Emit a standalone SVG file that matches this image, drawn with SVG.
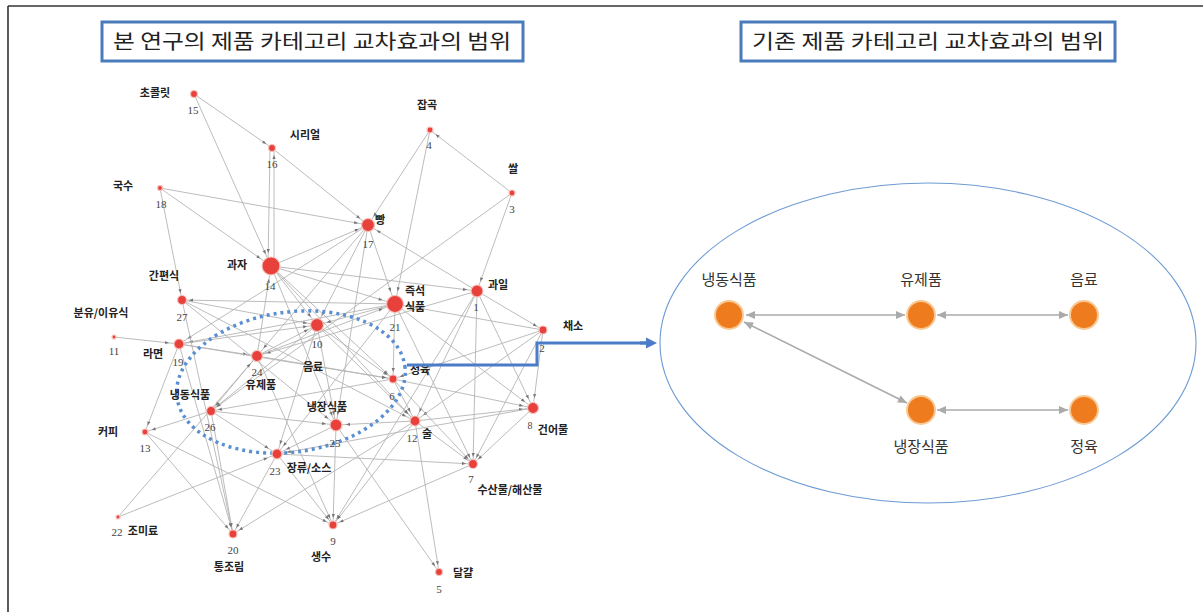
<svg xmlns="http://www.w3.org/2000/svg" width="1203" height="612" viewBox="0 0 1203 612">
<style>
.e line{stroke:#b4b4b4;stroke-width:0.9;fill:none}
.s{marker-end:url(#as)} .m{marker-end:url(#am)} .l{marker-end:url(#al)}
.nd circle{fill:#e8413c;stroke:#f7c2bc;stroke-width:1.2}
.lb{font-family:"Noto Sans CJK KR",sans-serif;font-size:11px;font-weight:bold;fill:#222;text-anchor:middle}
.nm{font-family:"Liberation Serif",serif;font-size:11px;fill:#444;text-anchor:middle}
.on circle{fill:#ee7b1e;stroke:#f9c994;stroke-width:2}
.rl{font-family:"Noto Sans CJK KR",sans-serif;font-size:15px;fill:#333;text-anchor:middle}
.ra line{stroke:#aaaaaa;stroke-width:1.6;marker-start:url(#ra);marker-end:url(#ra)}
.tb{fill:#fff;stroke:#4a7cbc;stroke-width:3}
.tt{font-family:"Noto Sans CJK KR",sans-serif;font-size:20px;fill:#222;text-anchor:middle}
</style>
<defs>
<marker id="as" markerUnits="userSpaceOnUse" markerWidth="6" markerHeight="6" refX="11" refY="0" orient="auto" overflow="visible"><path d="M0,-1.6 L4,0 L0,1.6z" fill="#777"/></marker>
<marker id="am" markerUnits="userSpaceOnUse" markerWidth="6" markerHeight="6" refX="14" refY="0" orient="auto" overflow="visible"><path d="M0,-1.6 L4,0 L0,1.6z" fill="#777"/></marker>
<marker id="al" markerUnits="userSpaceOnUse" markerWidth="6" markerHeight="6" refX="17" refY="0" orient="auto" overflow="visible"><path d="M0,-1.6 L4,0 L0,1.6z" fill="#777"/></marker>
<marker id="ra" markerUnits="userSpaceOnUse" markerWidth="12" markerHeight="12" refX="9" refY="0" orient="auto-start-reverse" overflow="visible"><path d="M0,-4 L9,0 L0,4z" fill="#aaaaaa"/></marker>
<marker id="ba" markerUnits="userSpaceOnUse" markerWidth="14" markerHeight="14" refX="0" refY="0" orient="auto" overflow="visible"><path d="M0,-5.5 L11,0 L0,5.5z" fill="#4a7cc8"/></marker>
</defs>
<rect width="1203" height="612" fill="#fff"/>
<!-- frame -->
<g id="frame" stroke="#333" stroke-width="1.6">
<line x1="8" y1="6" x2="1203" y2="6"/>
<line x1="8" y1="6" x2="8" y2="612"/>
</g>
<!-- titles -->
<g id="title-left"><rect class="tb" x="102" y="22" width="421" height="39"/><text class="tt" x="312" y="49" textLength="398" lengthAdjust="spacingAndGlyphs">본 연구의 제품 카테고리 교차효과의 범위</text></g>
<g id="title-right"><rect class="tb" x="741" y="22" width="374" height="39"/><text class="tt" x="928" y="49" textLength="352" lengthAdjust="spacingAndGlyphs">기존 제품 카테고리 교차효과의 범위</text></g>

<!-- network edges -->
<g id="edges" class="e">
<line class="s" x1="194" y1="94" x2="272" y2="148"/>
<line class="l" x1="194" y1="94" x2="271" y2="266"/>
<line class="l" x1="270" y1="148" x2="268" y2="266"/>
<line class="s" x1="274" y1="266" x2="274" y2="148"/>
<line class="m" x1="272" y1="148" x2="368" y2="225"/>
<line class="m" x1="160" y1="188" x2="368" y2="225"/>
<line class="l" x1="160" y1="188" x2="271" y2="266"/>
<line class="s" x1="160" y1="188" x2="182" y2="300"/>
<line class="m" x1="430" y1="130" x2="368" y2="225"/>
<line class="l" x1="430" y1="130" x2="395" y2="304"/>
<line class="s" x1="512" y1="193" x2="430" y2="130"/>
<line class="m" x1="512" y1="193" x2="477" y2="291"/>
<line class="s" x1="512" y1="193" x2="211" y2="411"/>
<line class="m" x1="477" y1="291" x2="368" y2="225"/>
<line class="m" x1="271" y1="266" x2="477" y2="291"/>
<line class="m" x1="271" y1="266" x2="368" y2="225"/>
<line class="m" x1="368" y1="225" x2="257" y2="356"/>
<line class="m" x1="368" y1="225" x2="179" y2="344"/>
<line class="m" x1="368" y1="225" x2="317" y2="325"/>
<line class="m" x1="368" y1="225" x2="336" y2="425"/>
<line class="l" x1="368" y1="225" x2="395" y2="304"/>
<line class="l" x1="271" y1="266" x2="395" y2="304"/>
<line class="l" x1="257" y1="356" x2="271" y2="266"/>
<line class="m" x1="271" y1="266" x2="317" y2="325"/>
<line class="m" x1="271" y1="266" x2="415" y2="421"/>
<line class="s" x1="271" y1="266" x2="393" y2="379"/>
<line class="m" x1="271" y1="266" x2="336" y2="425"/>
<line class="s" x1="477" y1="291" x2="543" y2="330"/>
<line class="s" x1="477" y1="291" x2="473" y2="464"/>
<line class="m" x1="477" y1="291" x2="415" y2="421"/>
<line class="m" x1="477" y1="291" x2="257" y2="356"/>
<line class="m" x1="477" y1="291" x2="533" y2="408"/>
<line class="s" x1="477" y1="291" x2="333" y2="525"/>
<line class="s" x1="395" y1="304" x2="182" y2="300"/>
<line class="m" x1="395" y1="304" x2="533" y2="408"/>
<line class="m" x1="395" y1="304" x2="317" y2="325"/>
<line class="m" x1="395" y1="304" x2="179" y2="344"/>
<line class="m" x1="395" y1="304" x2="277" y2="454"/>
<line class="s" x1="395" y1="304" x2="393" y2="379"/>
<line class="s" x1="395" y1="304" x2="473" y2="464"/>
<line class="s" x1="543" y1="330" x2="393" y2="379"/>
<line class="m" x1="543" y1="330" x2="533" y2="408"/>
<line class="s" x1="543" y1="330" x2="473" y2="464"/>
<line class="m" x1="543" y1="330" x2="415" y2="421"/>
<line class="l" x1="543" y1="330" x2="395" y2="304"/>
<line class="m" x1="182" y1="300" x2="317" y2="325"/>
<line class="m" x1="182" y1="300" x2="415" y2="421"/>
<line class="m" x1="182" y1="300" x2="336" y2="425"/>
<line class="s" x1="182" y1="300" x2="233" y2="534"/>
<line class="m" x1="114" y1="337" x2="179" y2="344"/>
<line class="m" x1="179" y1="344" x2="317" y2="325"/>
<line class="m" x1="179" y1="344" x2="257" y2="356"/>
<line class="s" x1="179" y1="344" x2="145" y2="432"/>
<line class="s" x1="179" y1="344" x2="233" y2="534"/>
<line class="s" x1="179" y1="344" x2="393" y2="379"/>
<line class="m" x1="257" y1="356" x2="317" y2="325"/>
<line class="s" x1="257" y1="356" x2="393" y2="379"/>
<line class="s" x1="257" y1="356" x2="333" y2="525"/>
<line class="s" x1="257" y1="356" x2="211" y2="411"/>
<line class="l" x1="257" y1="356" x2="395" y2="304"/>
<line class="s" x1="317" y1="325" x2="393" y2="379"/>
<line class="m" x1="317" y1="325" x2="277" y2="454"/>
<line class="m" x1="317" y1="325" x2="336" y2="425"/>
<line class="s" x1="317" y1="325" x2="211" y2="411"/>
<line class="m" x1="317" y1="325" x2="415" y2="421"/>
<line class="m" x1="393" y1="379" x2="415" y2="421"/>
<line class="s" x1="393" y1="379" x2="211" y2="411"/>
<line class="s" x1="393" y1="379" x2="473" y2="464"/>
<line class="m" x1="393" y1="379" x2="533" y2="408"/>
<line class="m" x1="211" y1="411" x2="336" y2="425"/>
<line class="s" x1="211" y1="411" x2="233" y2="534"/>
<line class="m" x1="211" y1="411" x2="277" y2="454"/>
<line class="s" x1="211" y1="411" x2="145" y2="432"/>
<line class="m" x1="415" y1="421" x2="336" y2="425"/>
<line class="s" x1="336" y1="425" x2="439" y2="572"/>
<line class="s" x1="336" y1="425" x2="333" y2="525"/>
<line class="m" x1="336" y1="425" x2="277" y2="454"/>
<line class="m" x1="415" y1="421" x2="533" y2="408"/>
<line class="s" x1="415" y1="421" x2="473" y2="464"/>
<line class="s" x1="415" y1="421" x2="439" y2="572"/>
<line class="s" x1="415" y1="421" x2="233" y2="534"/>
<line class="s" x1="415" y1="421" x2="333" y2="525"/>
<line class="s" x1="533" y1="408" x2="473" y2="464"/>
<line class="m" x1="533" y1="408" x2="277" y2="454"/>
<line class="s" x1="473" y1="464" x2="333" y2="525"/>
<line class="s" x1="145" y1="432" x2="233" y2="534"/>
<line class="s" x1="145" y1="432" x2="333" y2="525"/>
<line class="m" x1="118" y1="517" x2="277" y2="454"/>
<line class="m" x1="118" y1="517" x2="257" y2="356"/>
<line class="s" x1="277" y1="454" x2="473" y2="464"/>
<line class="s" x1="277" y1="454" x2="233" y2="534"/>
<line class="s" x1="277" y1="454" x2="333" y2="525"/>
</g>

<!-- dotted highlight -->
<ellipse id="highlight" cx="291" cy="382" rx="115" ry="70" transform="rotate(-8 291 382)" fill="none" stroke="#5a8fd2" stroke-width="3.5" stroke-dasharray="3 4"/>

<!-- network nodes -->
<g id="n15" class="nd"><circle cx="194" cy="94" r="3.5"/><text class="lb" x="155" y="97">초콜릿</text><text class="nm" x="193" y="114">15</text></g>
<g id="n16" class="nd"><circle cx="272" cy="148" r="3.5"/><text class="lb" x="305" y="139">시리얼</text><text class="nm" x="272" y="168">16</text></g>
<g id="n18" class="nd"><circle cx="160" cy="188" r="2.5"/><text class="lb" x="123" y="190">국수</text><text class="nm" x="161" y="208">18</text></g>
<g id="n17" class="nd"><circle cx="368" cy="225" r="6.5"/><text class="lb" x="380" y="224">빵</text><text class="nm" x="368" y="248">17</text></g>
<g id="n4" class="nd"><circle cx="430" cy="130" r="3"/><text class="lb" x="427" y="109">잡곡</text><text class="nm" x="429" y="149">4</text></g>
<g id="n3" class="nd"><circle cx="512" cy="193" r="3"/><text class="lb" x="513" y="173">쌀</text><text class="nm" x="512" y="213">3</text></g>
<g id="n14" class="nd"><circle cx="271" cy="266" r="9"/><text class="lb" x="237" y="269">과자</text><text class="nm" x="270" y="290">14</text></g>
<g id="n1" class="nd"><circle cx="477" cy="291" r="6"/><text class="lb" x="498" y="289">과일</text><text class="nm" x="476" y="311">1</text></g>
<g id="n21" class="nd"><circle cx="395" cy="304" r="8.5"/><text class="lb" x="415" y="295">즉석</text><text class="lb" x="415" y="311">식품</text><text class="nm" x="395" y="331">21</text></g>
<g id="n2" class="nd"><circle cx="543" cy="330" r="4"/><text class="lb" x="573" y="330">채소</text><text class="nm" x="542" y="352">2</text></g>
<g id="n27" class="nd"><circle cx="182" cy="300" r="4.5"/><text class="lb" x="164" y="280">간편식</text><text class="nm" x="182" y="321">27</text></g>
<g id="n11" class="nd"><circle cx="114" cy="337" r="2"/><text class="lb" x="101" y="317">분유/이유식</text><text class="nm" x="114" y="355">11</text></g>
<g id="n19" class="nd"><circle cx="179" cy="344" r="5"/><text class="lb" x="153" y="358">라면</text><text class="nm" x="178" y="366">19</text></g>
<g id="n10" class="nd"><circle cx="317" cy="325" r="6.5"/><text class="nm" x="317" y="348">10</text><text class="lb" x="313" y="371">음료</text></g>
<g id="n24" class="nd"><circle cx="257" cy="356" r="5.5"/><text class="nm" x="257" y="376">24</text><text class="lb" x="261" y="389">유제품</text></g>
<g id="n6" class="nd"><circle cx="393" cy="379" r="4"/><text class="lb" x="420" y="374">정육</text><text class="nm" x="392" y="400">6</text></g>
<g id="n26" class="nd"><circle cx="211" cy="411" r="4.5"/><text class="lb" x="190" y="399">냉동식품</text><text class="nm" x="210" y="431">26</text></g>
<g id="n25" class="nd"><circle cx="336" cy="425" r="6"/><text class="lb" x="327" y="411">냉장식품</text><text class="nm" x="335" y="447">25</text></g>
<g id="n12" class="nd"><circle cx="415" cy="421" r="5"/><text class="nm" x="412" y="442">12</text><text class="lb" x="427" y="438">술</text></g>
<g id="n8" class="nd"><circle cx="533" cy="408" r="5.5"/><text class="nm" x="530" y="429" style="font-size:10px">8</text><text class="lb" x="553" y="434">건어물</text></g>
<g id="n13" class="nd"><circle cx="145" cy="432" r="3"/><text class="lb" x="108" y="436">커피</text><text class="nm" x="145" y="452">13</text></g>
<g id="n23" class="nd"><circle cx="277" cy="454" r="5"/><text class="nm" x="275" y="475">23</text><text class="lb" x="309" y="472">장류/소스</text></g>
<g id="n7" class="nd"><circle cx="473" cy="464" r="4.5"/><text class="nm" x="471" y="483">7</text><text class="lb" x="510" y="494">수산물/해산물</text></g>
<g id="n22" class="nd"><circle cx="118" cy="517" r="2"/><text class="nm" x="117" y="536">22</text><text class="lb" x="143" y="535">조미료</text></g>
<g id="n20" class="nd"><circle cx="233" cy="534" r="4"/><text class="nm" x="233" y="554">20</text><text class="lb" x="229" y="571">통조림</text></g>
<g id="n9" class="nd"><circle cx="333" cy="525" r="4"/><text class="nm" x="333" y="545">9</text><text class="lb" x="321" y="561">생수</text></g>
<g id="n5" class="nd"><circle cx="439" cy="572" r="3.5"/><text class="lb" x="463" y="577">달걀</text><text class="nm" x="439" y="593">5</text></g>

<!-- blue pointer connector -->
<g id="pointer">
<path d="M407,365 H537 V343 H646" fill="none" stroke="#4a7cc8" stroke-width="3"/>
<line x1="640" y1="343" x2="646" y2="343" stroke="#4a7cc8" stroke-width="3" marker-end="url(#ba)"/>
</g>

<!-- right panel -->
<ellipse id="scope" cx="928" cy="343" rx="268" ry="160" fill="none" stroke="#6d9bd3" stroke-width="1.1"/>
<g id="right-connectors" class="ra">
<line x1="746" y1="315" x2="905" y2="315"/>
<line x1="937" y1="315" x2="1068" y2="315"/>
<line x1="744" y1="322" x2="907" y2="403"/>
<line x1="937" y1="410" x2="1068" y2="410"/>
</g>
<g id="r-frozen" class="on"><circle cx="729" cy="315" r="14"/><text class="rl" x="729" y="285">냉동식품</text></g>
<g id="r-dairy" class="on"><circle cx="921" cy="315" r="14"/><text class="rl" x="921" y="285">유제품</text></g>
<g id="r-drink" class="on"><circle cx="1084" cy="315" r="14"/><text class="rl" x="1084" y="285">음료</text></g>
<g id="r-chilled" class="on"><circle cx="921" cy="410" r="14"/><text class="rl" x="921" y="452">냉장식품</text></g>
<g id="r-meat" class="on"><circle cx="1084" cy="410" r="14"/><text class="rl" x="1084" y="452">정육</text></g>
</svg>
